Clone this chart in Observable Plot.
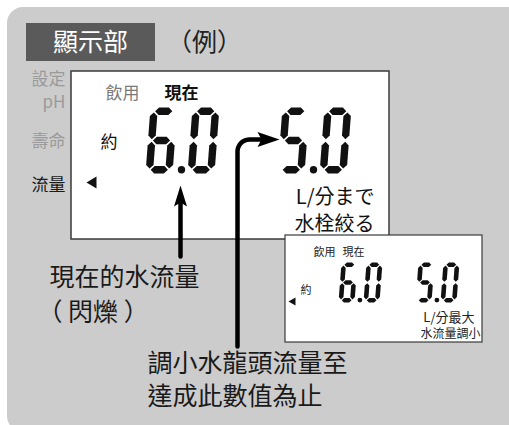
<!DOCTYPE html>
<html>
<head>
<meta charset="utf-8">
<script src="https://cdn.jsdelivr.net/npm/d3@7"></script>
<script src="https://cdn.jsdelivr.net/npm/@observablehq/plot@0.6"></script>
<style>
  html, body { margin: 0; padding: 0; background: #fff; }
  #wrap { width: 509px; height: 425px; overflow: hidden; }
</style>
</head>
<body>
<div id="wrap"></div>
<script>
// ---- data (texts & values) ----
const titleText = "顯示部";
const exampleText = "（例）";
const sideLabels = ["設定", "pH", "壽命", "流量"];
const lcdLabels = ["飲用", "現在", "約"];
const bigValues = ["6.0", "5.0"];
const bigUnits = ["L/分まで", "水栓絞る"];
const smallLabels = ["飲用", "現在", "約"];
const smallValues = ["6.0", "5.0"];
const smallUnits = ["L/分最大", "水流量調小"];
const calloutCurrent = ["現在的水流量", "（ 閃爍 ）"];
const calloutTarget = ["調小水龍頭流量至", "達成此數值為止"];

// ---- layout (positions, sizes, styles) ----
const W = 509, H = 425;
const FONT = "'Noto Sans CJK TC', 'Noto Sans CJK JP', sans-serif";
const panel = {x1: 7, x2: 545, y1: 7, y2: 432, r: 16};
const titleBox = {x1: 26, x2: 155, y1: 23, y2: 61};
const bigLcd = {x1: 71, x2: 389, y1: 71, y2: 239};
const smallLcd = {x1: 285, x2: 482, y1: 235, y2: 342};
const sideGroups = [
  {text: sideLabels[0] + "\n" + sideLabels[1], x: 65, y: 89, c: "#9a9a9a"},
  {text: sideLabels[2], x: 65, y: 139, c: "#9a9a9a"},
  {text: sideLabels[3], x: 65, y: 183, c: "#1a1a1a"}
];
const lcdPos = [{x: 105, y: 93, c: "#7a7a7a"}, {x: 164, y: 93, c: "#111"}, {x: 100, y: 142, c: "#111"}];
const smallLabelPos = [{x: 313, y: 252}, {x: 342, y: 252}, {x: 300, y: 290}];
const bigDigitGeom = {starts: [145, 277], top: 107, h: 66, w: 27, t: 7.4, s: 5, g: 1.2, pitch: 42, dotR: 3.7};
const smallDigitGeom = {starts: [338, 415], top: 262, h: 40, w: 16, t: 4.6, s: 3, g: 0.8, pitch: 25, dotR: 2.4};
const pointers = [
  {pts: [[86, 182], [96, 176], [96, 188]]},
  {pts: [[288, 301], [295, 297], [295, 305]]}
];

// ---- seven-segment geometry ----
const SEG = {"0": "abcdef", "1": "bc", "2": "abged", "3": "abgcd", "4": "fgbc", "5": "afgcd", "6": "afgedc", "7": "abc", "8": "abcdefg", "9": "abcdfg"};
function segPoly(name, w, h, t, g) {
  const xl = t / 2, xr = w - t / 2, yt = t / 2, ym = h / 2, yb = h - t / 2, ht = t / 2;
  const hor = (y) => [[xl + g, y], [xl + g + ht, y - ht], [xr - g - ht, y - ht], [xr - g, y], [xr - g - ht, y + ht], [xl + g + ht, y + ht]];
  const ver = (x, y0, y1) => [[x, y0 + g], [x + ht, y0 + g + ht], [x + ht, y1 - g - ht], [x, y1 - g], [x - ht, y1 - g - ht], [x - ht, y0 + g + ht]];
  switch (name) {
    case "a": return hor(yt);
    case "g": return hor(ym);
    case "d": return hor(yb);
    case "f": return ver(xl, yt, ym);
    case "e": return ver(xl, ym, yb);
    case "b": return ver(xr, yt, ym);
    case "c": return ver(xr, ym, yb);
  }
}
function digits(values, G, tag) {
  const polys = [], dots = [];
  values.forEach((str, vi) => {
    let x = G.starts[vi], k = 0;
    for (const ch of str) {
      if (ch === ".") {
        dots.push({x: x - G.pitch + G.w + (G.pitch - G.w) * 0.6, y: G.top + G.h - G.dotR});
        continue;
      }
      for (const sn of SEG[ch]) {
        const id = `${tag}-${vi}-${k}-${sn}`;
        for (const [px, py] of segPoly(sn, G.w, G.h, G.t, G.g)) {
          polys.push({id, x: x + px + G.s * (1 - py / G.h), y: G.top + py});
        }
      }
      x += G.pitch; k++;
    }
  });
  return {polys, dots};
}
const big = digits(bigValues, bigDigitGeom, "big");
const small = digits(smallValues, smallDigitGeom, "small");

// ---- arrows ----
const arrow1 = [{x: 180, y: 256}, {x: 180, y: 200}];
const arrow1Head = [[180, 185], [173.5, 206], [180, 202], [186.5, 206]].map(([x, y]) => ({x, y}));
const arc = d3.range(0, 11).map(i => {
  const a = Math.PI + (Math.PI / 2) * i / 10;
  return {x: 249 + 12 * Math.cos(a), y: 151 + 12 * Math.sin(a)};
});
const arrow2 = [{x: 237, y: 346}, ...arc, {x: 262, y: 139}];
const arrow2Head = [[279, 139], [257, 131.5], [261, 139], [257, 146.5]].map(([x, y]) => ({x, y}));

const polyRows = (list) => list.flatMap((p, i) => p.pts.map(([x, y]) => ({id: i, x, y})));

const txt = (data, opts) => Plot.text(data, {fontFamily: FONT, lineAnchor: "middle", ...opts});

const chart = Plot.plot({
  width: W, height: H, margin: 0,
  x: {domain: [0, W], range: [0, W], axis: null},
  y: {domain: [0, H], range: [0, H], axis: null},
  style: {background: "#fff", fontFamily: FONT, overflow: "hidden"},
  marks: [
    Plot.rect([panel], {x1: "x1", x2: "x2", y1: "y1", y2: "y2", rx: panel.r, fill: "#cccccc"}),
    Plot.rect([titleBox], {x1: "x1", x2: "x2", y1: "y1", y2: "y2", fill: "#5a5a5a"}),
    txt([titleText], {x: 90, y: 42, text: d => d, fontSize: 25, fill: "#fff", textAnchor: "middle"}),
    txt([exampleText], {x: 204, y: 42, text: d => d, fontSize: 25, fill: "#222", textAnchor: "middle"}),
    ...sideGroups.map(g => txt([g.text], {x: g.x, y: g.y, text: d => d, fontSize: 17, lineHeight: 1.36, fill: g.c, textAnchor: "end"})),
    Plot.rect([bigLcd], {x1: "x1", x2: "x2", y1: "y1", y2: "y2", fill: "#fff", stroke: "#3a3a3a", strokeWidth: 1.5}),
    txt([lcdLabels[0]], {x: lcdPos[0].x, y: lcdPos[0].y, text: d => d, fontSize: 17, fill: lcdPos[0].c, textAnchor: "start"}),
    txt([lcdLabels[1]], {x: lcdPos[1].x, y: lcdPos[1].y, text: d => d, fontSize: 17, fill: lcdPos[1].c, textAnchor: "start", fontWeight: "bold"}),
    txt([lcdLabels[2]], {x: lcdPos[2].x, y: lcdPos[2].y, text: d => d, fontSize: 17, fill: lcdPos[2].c, textAnchor: "start"}),
    Plot.line(big.polys, {x: "x", y: "y", z: "id", fill: "#111", stroke: "none"}),
    Plot.dot(big.dots, {x: "x", y: "y", r: bigDigitGeom.dotR, fill: "#111"}),
    txt([bigUnits.join("\n")], {x: 374, y: 208.5, text: d => d, fontSize: 20, lineHeight: 1.36, fill: "#111", textAnchor: "end"}),
    Plot.line(polyRows([pointers[0]]), {x: "x", y: "y", z: "id", fill: "#111", stroke: "none"}),
    Plot.rect([smallLcd], {x1: "x1", x2: "x2", y1: "y1", y2: "y2", fill: "#fff", stroke: "#3a3a3a", strokeWidth: 1.2}),
    txt(smallLabels, {x: (d, i) => smallLabelPos[i].x, y: (d, i) => smallLabelPos[i].y, text: d => d, fontSize: 11, fill: "#222", textAnchor: "start"}),
    Plot.line(small.polys, {x: "x", y: "y", z: "id", fill: "#111", stroke: "none"}),
    Plot.dot(small.dots, {x: "x", y: "y", r: smallDigitGeom.dotR, fill: "#111"}),
    Plot.line(polyRows([pointers[1]]), {x: "x", y: "y", z: "id", fill: "#111", stroke: "none"}),
    txt([smallUnits[0]], {x: 474, y: 317, text: d => d, fontSize: 13, fill: "#222", textAnchor: "end"}),
    txt([smallUnits[1]], {x: 480, y: 334, text: d => d, fontSize: 12, fill: "#222", textAnchor: "end"}),
    Plot.line(arrow1, {x: "x", y: "y", stroke: "#000", strokeWidth: 4.5}),
    Plot.line(arrow1Head, {x: "x", y: "y", fill: "#000", stroke: "none"}),
    Plot.line(arrow2, {x: "x", y: "y", stroke: "#000", strokeWidth: 4.5, strokeLinejoin: "round"}),
    Plot.line(arrow2Head, {x: "x", y: "y", fill: "#000", stroke: "none"}),
    txt(calloutCurrent, {x: (d, i) => [49, 37][i], y: (d, i) => [277, 312][i], text: d => d, fontSize: 25, fill: "#1a1a1a", textAnchor: "start"}),
    txt(calloutTarget, {x: 147, y: (d, i) => [363, 396][i], text: d => d, fontSize: 25, fill: "#1a1a1a", textAnchor: "start"})
  ]
});
document.getElementById("wrap").appendChild(chart);
</script>
</body>
</html>
